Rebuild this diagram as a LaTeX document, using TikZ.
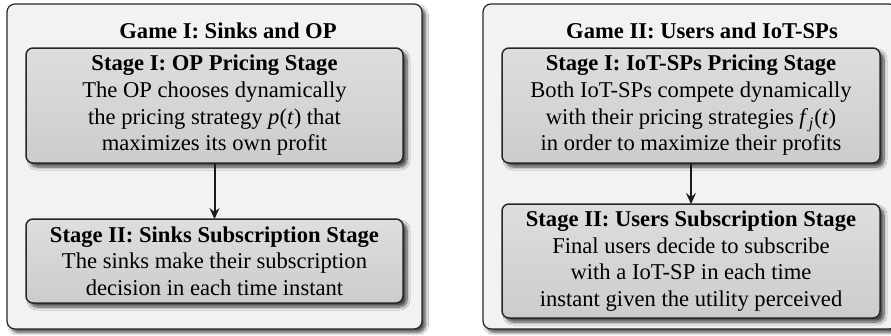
\documentclass[tikz,border=0pt]{standalone}
\usepackage{fontspec}
\setmainfont{Liberation Serif}
\usetikzlibrary{shadows.blur,arrows.meta}
\begin{document}
\begin{tikzpicture}[x=1pt,y=1pt,
  outerbox/.style={draw=black!85,line width=1.2pt,rounded corners=8pt,fill=black!5,
    blur shadow={shadow xshift=3.5pt,shadow yshift=-3.5pt,shadow blur steps=8,shadow blur radius=3pt,shadow opacity=70}},
  stagebox/.style={draw=black!85,line width=1.5pt,rounded corners=7pt,top color=black!13,bottom color=black!20,
    blur shadow={shadow xshift=4pt,shadow yshift=-4pt,shadow blur steps=8,shadow blur radius=3pt,shadow opacity=70}},
  txt/.style={align=center,font=\fontsize{22.6}{26.7}\selectfont,inner sep=0pt},
  ttl/.style={font=\fontsize{22.6}{26.7}\selectfont\bfseries,inner sep=0pt},
  arr/.style={-{Stealth[length=11pt,width=10pt,inset=4pt]},line width=2pt,black!90}]
\useasboundingbox (0,0) rectangle (891,-335);
\fill[white] (0,0) rectangle (891,-335);
% outer boxes
\draw[outerbox] (7,-4) rectangle (422,-329);
\draw[outerbox] (483,-4) rectangle (897,-329);
% titles
\node[ttl] (t1) at (228,-30.5) {Game I: Sinks and OP};
\node[ttl] (t2) at (702,-30.5) {Game II: Users and IoT-SPs};
% stage boxes
\draw[stagebox] (26,-48) rectangle (403,-163);
\node[txt] (a1) at (214.5,-105.5) {\textbf{Stage I: OP Pricing Stage}\\The OP chooses dynamically\\the pricing strategy \textit{p}(\textit{t}) that\\maximizes its own profit};
\coordinate (a1s) at (214.5,-163);
\draw[stagebox] (26,-219) rectangle (403,-303);
\node[txt] (a2) at (214.5,-261) {\textbf{Stage II: Sinks Subscription Stage}\\The sinks make their subscription\\decision in each time instant};
\coordinate (a2n) at (214.5,-219);
\draw[stagebox] (502,-48) rectangle (880,-163);
\node[txt] (b1) at (691,-105.5) {\textbf{Stage I: IoT-SPs Pricing Stage}\\Both IoT-SPs compete dynamically\\with their pricing strategies \textit{f}\kern0.5pt{\fontsize{16}{16}\selectfont\raisebox{-4pt}{\textit{j}}}\kern1pt(\textit{t})\\in order to maximize their profits};
\coordinate (b1s) at (691,-163);
\draw[stagebox] (502,-204) rectangle (880,-318);
\node[txt] (b2) at (691,-261) {\textbf{Stage II: Users Subscription Stage}\\Final users decide to subscribe\\with a IoT-SP in each time\\instant given the utility perceived};
\coordinate (b2n) at (691,-204);
% arrows
\draw[arr] (a1s) -- (a2n);
\draw[arr] (b1s) -- (b2n);
\end{tikzpicture}
\end{document}
